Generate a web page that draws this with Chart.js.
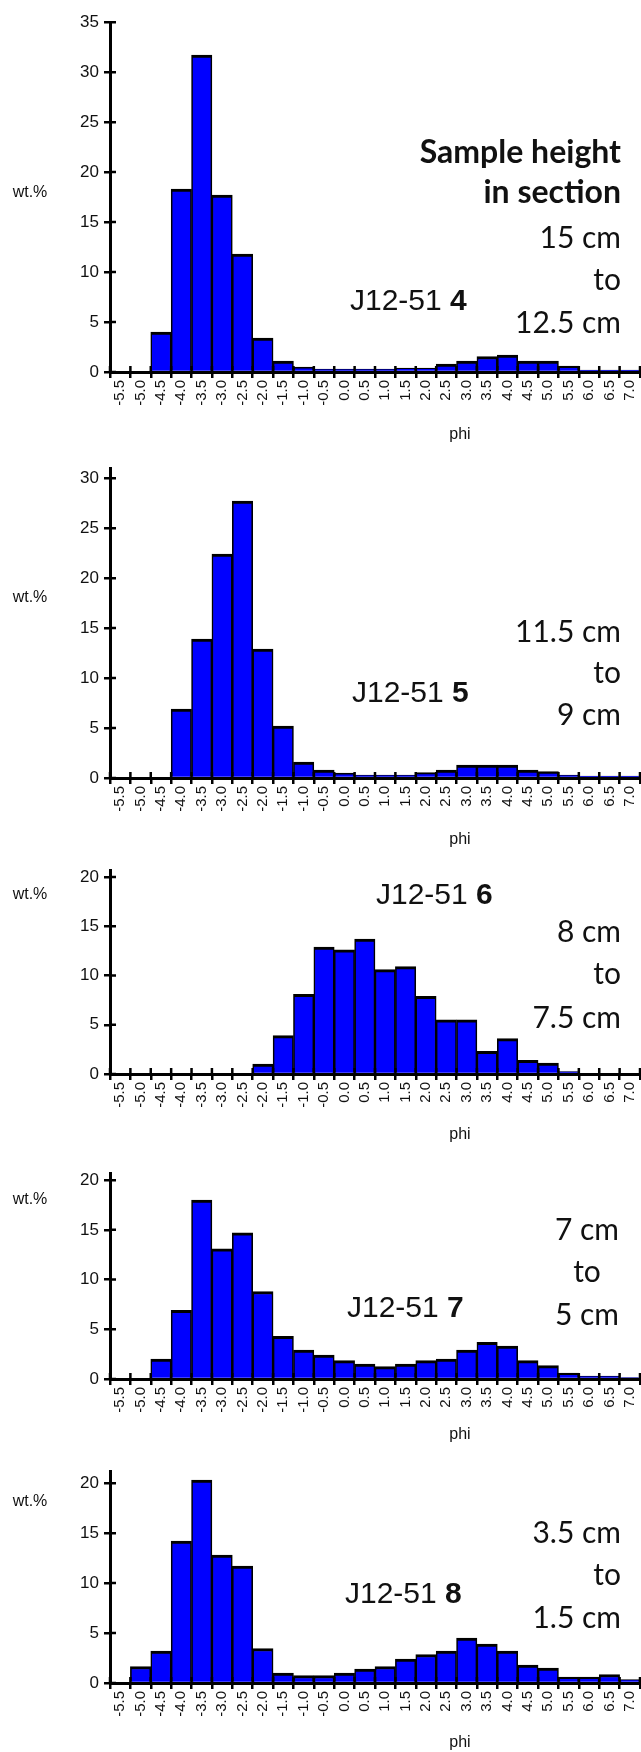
<!DOCTYPE html>
<html>
<head>
<meta charset="utf-8">
<title>J12-51 grain size</title>
<script src="https://cdn.jsdelivr.net/npm/chart.js@4.4.1/dist/chart.umd.min.js"></script>
<style>
  html, body { margin: 0; padding: 0; background: #fff; }
  body { width: 641px; height: 1752px; position: relative; overflow: hidden; }
  .panel { position: absolute; left: 0; width: 641px; }
</style>
</head>
<body>
<script>
// ---------------- DATA ----------------
const phiClasses = ["-5.5", "-5.0", "-4.5", "-4.0", "-3.5", "-3.0", "-2.5", "-2.0", "-1.5", "-1.0",
  "-0.5", "0.0", "0.5", "1.0", "1.5", "2.0", "2.5", "3.0", "3.5", "4.0",
  "4.5", "5.0", "5.5", "6.0", "6.5", "7.0"];

const wt4 = [0, 0, 4.0, 18.3, 31.7, 17.7, 11.8, 3.4, 1.1, 0.5, 0.3, 0.3, 0.3, 0.3, 0.4, 0.4, 0.8, 1.1, 1.55, 1.7, 1.1, 1.1, 0.6, 0.2, 0.2, 0.2];
const wt5 = [0, 0, 0, 6.9, 13.9, 22.4, 27.7, 12.9, 5.2, 1.6, 0.8, 0.5, 0.3, 0.3, 0.3, 0.55, 0.8, 1.3, 1.3, 1.3, 0.8, 0.65, 0.3, 0.2, 0.2, 0.2];
const wt6 = [0, 0, 0, 0, 0, 0, 0, 1.0, 3.9, 8.1, 12.9, 12.6, 13.7, 10.6, 10.9, 7.9, 5.5, 5.5, 2.3, 3.6, 1.4, 1.1, 0.25, 0, 0, 0];
const wt7 = [0, 0, 2.0, 6.9, 18.0, 13.1, 14.7, 8.8, 4.3, 2.9, 2.4, 1.85, 1.5, 1.25, 1.5, 1.85, 2.0, 2.9, 3.7, 3.3, 1.85, 1.35, 0.6, 0.3, 0.3, 0.15];
const wt8 = [0, 1.65, 3.2, 14.2, 20.3, 12.8, 11.7, 3.45, 1.0, 0.75, 0.75, 1.0, 1.4, 1.65, 2.4, 2.85, 3.2, 4.5, 3.9, 3.2, 1.8, 1.5, 0.6, 0.6, 0.85, 0.35];

const samples = ["4", "5", "6", "7", "8"];
const yMaxes = [35, 31, 20.7, 20.7, 21.2];
const heading = ["Sample height", "in section"];
const depths = [
  ["15 cm", "to", "12.5 cm"],
  ["11.5 cm", "to", "9 cm"],
  ["8 cm", "to", "7.5 cm"],
  ["7 cm", "to", "5 cm"],
  ["3.5 cm", "to", "1.5 cm"]
];
const series = [wt4, wt5, wt6, wt7, wt8];

// ---------------- LAYOUT (page pixels) ----------------
const plotTop = [19, 465, 867, 1170, 1468];   // pixel of y max
const plotZero = [372, 778, 1074, 1379, 1683]; // pixel of y = 0
const wtY = [193, 598, 895, 1200, 1502];
const phiY = [435, 840, 1135, 1435, 1743];
const idXY = [[350, 310], [352, 702], [376, 904], [347, 1317], [345, 1603]];
const depthY = [[248, 290, 333], [642, 683, 725], [942, 984, 1028], [1240, 1282, 1325], [1543, 1585, 1628]];
const headingY = [163, 203];

const PAD_TOP = 12;
const AXIS_H = 70;
const AXIS_FONT = "'Liberation Sans', Arial, sans-serif";
const NOTE_FONT = "Lato, 'Open Sans', sans-serif";

// ---------------- PLUGINS ----------------
// short tick marks inside the plot so the ticks cross the axes
const crossTicks = {
  id: "crossTicks",
  afterDraw(chart) {
    const { ctx, chartArea, scales } = chart;
    const x = scales.x, y = scales.y;
    ctx.save();
    ctx.strokeStyle = "#000";
    ctx.lineWidth = 2.5;
    ctx.beginPath();
    y.ticks.forEach((t, i) => {
      const py = y.getPixelForTick(i);
      ctx.moveTo(chartArea.left, py);
      ctx.lineTo(chartArea.left + 6, py);
    });
    for (let i = 0; i <= x.ticks.length; i++) {
      const px = x.getPixelForValue(i - 0.5);
      ctx.moveTo(px, chartArea.bottom);
      ctx.lineTo(px, chartArea.bottom - 6);
    }
    ctx.stroke();
    ctx.restore();
  }
};

const notes = {
  id: "notes",
  afterDraw(chart, args, opts) {
    const ctx = chart.ctx;
    const off = opts.offset;
    ctx.save();
    ctx.fillStyle = "#111";
    (opts.items || []).forEach(it => {
      ctx.font = it.font;
      ctx.textAlign = it.align || "left";
      ctx.textBaseline = it.baseline || "alphabetic";
      let x = it.x;
      it.parts.forEach(p => {
        ctx.font = p.font || it.font;
        ctx.fillText(p.text, x, it.y - off);
        x += ctx.measureText(p.text).width;
      });
    });
    ctx.restore();
  }
};

// ---------------- CHARTS ----------------
function makePanel(i) {
  const canvasTop = plotTop[i] - PAD_TOP;
  const div = document.createElement("div");
  div.className = "panel";
  div.style.top = canvasTop + "px";
  div.style.height = (plotZero[i] - plotTop[i] + PAD_TOP + AXIS_H) + "px";
  const cv = document.createElement("canvas");
  div.appendChild(cv);
  document.body.appendChild(div);

  const items = [];
  items.push({ x: 30, y: wtY[i], align: "center", baseline: "middle", font: "16px " + AXIS_FONT, parts: [{ text: "wt.%" }] });
  items.push({ x: 460, y: phiY[i], align: "center", baseline: "middle", font: "16px " + AXIS_FONT, parts: [{ text: "phi" }] });
  items.push({ x: idXY[i][0], y: idXY[i][1], font: "30px " + AXIS_FONT,
    parts: [{ text: "J12-51 " }, { text: samples[i], font: "bold 30px " + AXIS_FONT }] });
  if (i === 0) {
    heading.forEach((h, k) => items.push({ x: 621, y: headingY[k], align: "right", font: "bold 32px " + NOTE_FONT, parts: [{ text: h }] }));
  }
  depths[i].forEach((d, k) => {
    const centred = i === 3;
    items.push({ x: centred ? 587 : 621, y: depthY[i][k], align: centred ? "center" : "right", font: "30px " + NOTE_FONT, parts: [{ text: d }] });
  });

  new Chart(cv, {
    type: "bar",
    data: {
      labels: phiClasses,
      datasets: [{
        data: series[i],
        backgroundColor: "#0000ff",
        borderColor: "#000",
        borderWidth: { top: 3, left: 1.6, right: 1.6, bottom: 0 },
        borderSkipped: false,
        barPercentage: 1,
        categoryPercentage: 1
      }]
    },
    options: {
      responsive: true,
      maintainAspectRatio: false,
      animation: false,
      layout: { padding: { top: PAD_TOP, left: 0, right: 1, bottom: 0 } },
      plugins: {
        legend: { display: false },
        tooltip: { enabled: false },
        notes: { offset: canvasTop, items: items }
      },
      scales: {
        x: {
          z: 1,
          grid: { offset: true, drawOnChartArea: false, color: "#000", lineWidth: 2.5, tickLength: 6 },
          border: { display: true, color: "#000", width: 3 },
          ticks: { color: "#111", font: { family: AXIS_FONT, size: 15 }, minRotation: 90, maxRotation: 90, padding: 2, autoSkip: false },
          afterFit: s => { s.height = AXIS_H; s.paddingLeft = 0; s.paddingRight = 0; }
        },
        y: {
          z: 1,
          min: 0,
          max: yMaxes[i],
          grid: { drawOnChartArea: false, color: "#000", lineWidth: 2.5, tickLength: 6 },
          border: { display: true, color: "#000", width: 3 },
          ticks: { stepSize: 5, color: "#111", font: { family: AXIS_FONT, size: 17 }, padding: 5 },
          afterBuildTicks: s => {
            const t = [];
            for (let v = 0; v <= s.max + 1e-6; v += 5) t.push({ value: v });
            s.ticks = t;
          },
          afterFit: s => { s.width = 110; }
        }
      }
    },
    plugins: [crossTicks, notes]
  });
}

samples.forEach((s, i) => makePanel(i));
</script>
</body>
</html>
